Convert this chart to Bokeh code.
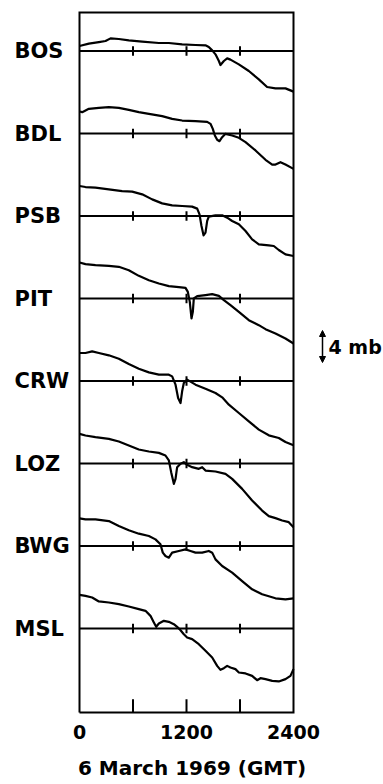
from bokeh.plotting import figure
from bokeh.models import Range1d, FixedTicker, Label, Arrow, NormalHead
from bokeh.embed import file_html
from bokeh.resources import INLINE

stations = ["BOS", "BDL", "PSB", "PIT", "CRW", "LOZ", "BWG", "MSL"]

bos_t = [0, 105, 217, 292, 348, 441, 553, 703, 890, 1002, 1151, 1301, 1413, 1450, 1488, 1525, 1563, 1581, 1619, 1656, 1693, 1787, 1899, 2011, 2104, 2198, 2310, 2400]
bos_p = [0.62, 0.92, 1.12, 1.25, 1.58, 1.5, 1.33, 1.17, 1.0, 1.0, 0.83, 0.75, 0.71, 0.5, 0.08, -0.42, -1.25, -1.75, -1.25, -0.92, -1.08, -1.67, -2.5, -3.54, -4.5, -4.67, -4.67, -5.08]

bdl_t = [0, 30, 105, 217, 329, 441, 553, 665, 778, 927, 1039, 1151, 1301, 1432, 1469, 1495, 1518, 1544, 1570, 1600, 1637, 1712, 1787, 1862, 1974, 2086, 2161, 2198, 2254, 2310, 2400]
bdl_p = [2.75, 2.67, 3.08, 3.21, 3.29, 3.21, 2.96, 2.67, 2.46, 2.17, 1.83, 1.62, 1.54, 1.46, 1.21, 0.58, -0.25, -0.79, -0.96, -0.46, -0.04, -0.25, -0.54, -1.08, -2.12, -3.29, -3.88, -3.88, -3.58, -3.88, -4.42]

psb_t = [0, 67, 179, 329, 478, 591, 703, 815, 927, 1039, 1151, 1263, 1320, 1346, 1368, 1391, 1413, 1432, 1450, 1525, 1600, 1656, 1712, 1787, 1862, 1936, 2011, 2123, 2179, 2235, 2310, 2400]
psb_p = [3.75, 3.62, 3.54, 3.33, 3.12, 3.04, 2.71, 2.08, 1.58, 1.33, 1.25, 1.17, 0.92, 0.21, -1.25, -2.42, -2.08, -0.62, -0.08, 0.08, 0.08, -0.21, -0.62, -1.04, -1.88, -2.92, -3.54, -3.67, -3.75, -4.25, -4.79, -5.0]

pit_t = [0, 67, 179, 329, 441, 553, 665, 778, 890, 1002, 1114, 1189, 1215, 1237, 1256, 1271, 1282, 1320, 1413, 1488, 1563, 1619, 1693, 1787, 1899, 2011, 2086, 2198, 2310, 2400]
pit_p = [4.5, 4.29, 4.17, 4.08, 3.96, 3.54, 2.83, 2.29, 1.88, 1.54, 1.42, 1.33, 0.83, -0.42, -2.5, -1.67, 0.0, 0.29, 0.42, 0.54, 0.33, -0.21, -0.83, -1.67, -2.71, -3.33, -3.83, -4.38, -5.0, -5.62]

crw_t = [0, 67, 142, 217, 329, 441, 553, 665, 778, 890, 1002, 1039, 1077, 1106, 1133, 1151, 1170, 1207, 1301, 1413, 1525, 1600, 1675, 1787, 1899, 2011, 2123, 2235, 2310, 2400]
crw_p = [3.5, 3.5, 3.71, 3.5, 3.21, 2.79, 2.12, 1.54, 1.08, 0.79, 0.79, 0.58, -0.46, -2.12, -2.75, -1.29, -0.25, 0.17, -0.46, -0.96, -1.5, -2.04, -2.96, -4.0, -5.04, -6.08, -6.79, -7.12, -7.62, -8.04]

loz_t = [0, 67, 179, 329, 441, 553, 665, 778, 890, 964, 1002, 1028, 1058, 1077, 1095, 1133, 1170, 1207, 1263, 1338, 1376, 1413, 1525, 1637, 1712, 1824, 1936, 2048, 2123, 2198, 2273, 2347, 2400]
loz_p = [3.71, 3.5, 3.29, 3.08, 2.75, 2.25, 1.75, 1.5, 1.33, 1.0, 0.38, -1.08, -2.54, -1.92, -0.46, -0.04, 0.17, -0.17, -0.46, -0.67, -0.46, -0.88, -1.0, -1.29, -1.92, -3.17, -4.62, -5.88, -6.58, -6.83, -7.12, -7.33, -7.96]

bwg_t = [0, 67, 179, 329, 441, 553, 665, 778, 852, 908, 934, 964, 1002, 1039, 1114, 1189, 1245, 1301, 1376, 1450, 1488, 1525, 1600, 1712, 1824, 1936, 2048, 2198, 2310, 2400]
bwg_p = [3.46, 3.33, 3.33, 3.12, 2.5, 1.96, 1.54, 1.25, 0.83, 0.21, -0.83, -1.25, -1.46, -0.83, -0.62, -0.42, -0.62, -0.83, -0.83, -0.62, -0.83, -1.67, -2.5, -3.33, -4.38, -5.42, -6.04, -6.54, -6.67, -6.54]

msl_t = [0, 67, 142, 217, 329, 441, 553, 665, 740, 796, 834, 860, 890, 946, 1002, 1058, 1095, 1133, 1170, 1207, 1263, 1338, 1413, 1488, 1544, 1581, 1619, 1656, 1693, 1749, 1787, 1862, 1936, 1992, 2030, 2086, 2161, 2235, 2310, 2366, 2400]
msl_p = [4.21, 4.08, 3.88, 3.38, 3.25, 3.04, 2.75, 2.42, 2.21, 1.58, 0.75, 0.21, 0.62, 0.96, 0.83, 0.54, 0.21, -0.21, -0.71, -1.12, -1.33, -1.96, -2.79, -3.62, -4.67, -5.17, -4.96, -4.67, -4.88, -5.08, -5.5, -5.62, -5.92, -6.46, -6.21, -6.33, -6.54, -6.62, -6.33, -5.92, -5.08]

times = [bos_t, bdl_t, psb_t, pit_t, crw_t, loz_t, bwg_t, msl_t]
pressures = [bos_p, bdl_p, psb_p, pit_p, crw_p, loz_p, bwg_p, msl_p]

x_tick_labels = [0, 1200, 2400]
inner_ticks = [600, 1200, 1800]
scale_mb = 4
x_title = "6 March 1969 (GMT)"

# ---- layout (y in mb, 8 px per mb; x: 214 px for 2400) ----
PX = 2400 / 214.0          # time units per pixel
MB = 1 / 8.0               # mb per pixel
SPACING = 10.3125
Y0, Y1 = -10.5, 77.0       # box bottom / top
FONT = "DejaVu Sans"
W, H = 383, 784
BOX_L, BOX_T = 79, 12      # box left / top pixel position
FRAME_H = 714

x_start = -BOX_L * PX
x_end = x_start + W * PX
y_end = Y1 + BOX_T * MB
y_start = y_end - FRAME_H * MB

p = figure(frame_width=W, frame_height=FRAME_H, output_backend="svg", toolbar_location=None,
           x_range=Range1d(x_start, x_end), y_range=Range1d(y_start, y_end),
           min_border_left=0, min_border_right=0, min_border_top=0, min_border_bottom=H - FRAME_H - 6)
p.grid.visible = False
p.yaxis.visible = False
p.outline_line_color = None
p.background_fill_color = "white"
p.border_fill_color = "white"

xa = p.xaxis[0]
xa.ticker = FixedTicker(ticks=x_tick_labels)
xa.axis_line_color = None
xa.major_tick_line_color = None
xa.minor_tick_line_color = None
xa.major_label_text_font = FONT
xa.major_label_text_font_style = "bold"
xa.major_label_text_font_size = "19px"
xa.major_label_text_color = "black"
xa.major_label_standoff = 4
xa.axis_label = x_title
xa.axis_label_text_font = FONT
xa.axis_label_text_font_style = "bold"
xa.axis_label_text_font_size = "20px"
xa.axis_label_text_color = "black"
xa.axis_label_standoff = 14

# frame box
p.line([0, 2400, 2400, 0, 0], [Y0, Y0, Y1, Y1, Y0], line_color="black", line_width=2, line_join="miter")

tick_half = 0.6
for i, name in enumerate(stations):
    base = (len(stations) - 1 - i) * SPACING
    p.line([0, 2400], [base, base], line_color="black", line_width=2)
    p.segment(x0=inner_ticks, y0=[base - tick_half] * 3, x1=inner_ticks, y1=[base + tick_half] * 3,
              line_color="black", line_width=2)
    p.line(times[i], [base + v for v in pressures[i]], line_color="black", line_width=2.2, line_join="round")
    p.add_layout(Label(x=(14 - BOX_L) * PX, y=base, text=name, text_font=FONT, text_font_style="bold",
                       text_font_size="21px", text_baseline="middle", text_align="left", text_color="black"))

# inner ticks on bottom of box
p.segment(x0=inner_ticks, y0=[Y0] * 3, x1=inner_ticks, y1=[Y0 + 1.65] * 3, line_color="black", line_width=2)

# scale arrow
yc = y_end - (346 * MB)
ax = (322 - BOX_L) * PX
p.add_layout(Arrow(x_start=ax, y_start=yc - scale_mb / 2, x_end=ax, y_end=yc + scale_mb / 2,
                   line_width=1.5, line_color="black",
                   start=NormalHead(size=6, fill_color="black", line_color="black"),
                   end=NormalHead(size=6, fill_color="black", line_color="black")))
p.add_layout(Label(x=(328 - BOX_L) * PX, y=yc, text=f"{scale_mb} mb", text_font=FONT, text_font_style="bold",
                   text_font_size="19px", text_baseline="middle", text_align="left", text_color="black"))

open("out.html", "w").write(file_html(p, INLINE))
